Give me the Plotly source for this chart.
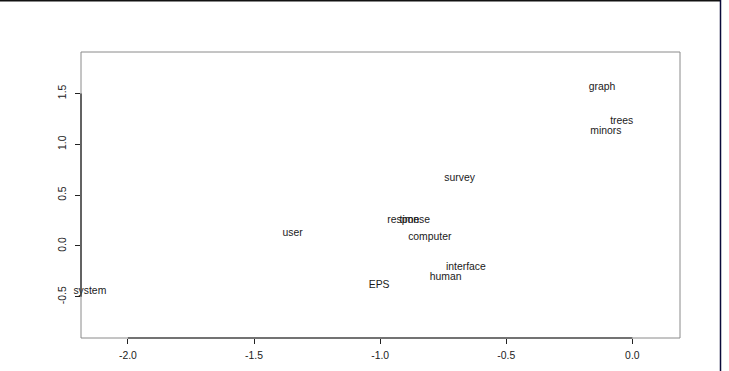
import plotly.graph_objects as go

# Term coordinates (2-D projection)
terms = ["graph", "trees", "minors", "survey", "response", "time", "user",
         "computer", "interface", "human", "EPS", "system"]
dim1 = [-0.120, -0.042, -0.105, -0.685, -0.887, -0.884, -1.347,
        -0.803, -0.660, -0.740, -1.004, -2.151]
dim2 = [1.563, 1.229, 1.131, 0.666, 0.253, 0.253, 0.128,
        0.088, -0.206, -0.308, -0.386, -0.445]

x_ticks = [-2.0, -1.5, -1.0, -0.5, 0.0]
x_tick_labels = ["-2.0", "-1.5", "-1.0", "-0.5", "0.0"]
y_ticks = [-0.5, 0.0, 0.5, 1.0, 1.5]
y_tick_labels = ["-0.5", "0.0", "0.5", "1.0", "1.5"]

x_range = [-2.186, 0.189]
y_range = [-0.905, 1.908]

FONT = "Liberation Sans, Arial, Helvetica, sans-serif"
FS = 10.4

fig = go.Figure()
fig.add_trace(go.Scatter(
    x=dim1, y=dim2, text=terms, mode="text",
    textposition="middle center",
    textfont=dict(family=FONT, size=FS, color="#1a1a1a"),
    hoverinfo="skip", cliponaxis=False, showlegend=False,
))

L, R, T, B = 81, 49, 52, 33
W, H = 729, 371
pw, ph = W - L - R, H - T - B


def px_to_paper_x(px):
    return (px - L) / pw


def px_to_paper_y(py):
    return (H - B - py) / ph


shapes = [
    # plot box (gray)
    dict(type="rect", xref="paper", yref="paper", x0=0, x1=1, y0=0, y1=1,
         line=dict(color="#8a8a8a", width=1), layer="above"),
    # axis lines spanning the ticks (black)
    dict(type="line", xref="x", yref="paper", x0=min(x_ticks), x1=max(x_ticks),
         y0=0, y1=0, line=dict(color="#222222", width=1.2), layer="above"),
    dict(type="line", xref="paper", yref="y", x0=0, x1=0,
         y0=min(y_ticks), y1=max(y_ticks), line=dict(color="#222222", width=1.2),
         layer="above"),
    # outer frame: top and right edges
    dict(type="line", xref="paper", yref="paper",
         x0=px_to_paper_x(0), x1=px_to_paper_x(721), y0=px_to_paper_y(0.75),
         y1=px_to_paper_y(0.75), line=dict(color="#111111", width=1.5)),
    dict(type="line", xref="paper", yref="paper",
         x0=px_to_paper_x(720.5), x1=px_to_paper_x(720.5), y0=px_to_paper_y(371),
         y1=px_to_paper_y(0), line=dict(color="#0a0a3a", width=1.5)),
]

fig.update_layout(
    width=W, height=H,
    margin=dict(l=L, r=R, t=T, b=B, pad=0, autoexpand=False),
    paper_bgcolor="white", plot_bgcolor="white",
    font=dict(family=FONT, size=FS, color="#222222"),
    shapes=shapes,
    xaxis=dict(range=x_range, tickvals=x_ticks, ticktext=x_tick_labels,
               showgrid=False, zeroline=False, showline=False, automargin=False,
               ticks="outside", ticklen=5, tickcolor="#222222", tickwidth=1,
               ticklabelstandoff=3,
               tickfont=dict(family=FONT, size=FS, color="#222222")),
    yaxis=dict(range=y_range, tickvals=y_ticks, ticktext=y_tick_labels,
               showgrid=False, zeroline=False, showline=False, automargin=False,
               ticks="outside", ticklen=5, tickcolor="#222222", tickwidth=1,
               tickangle=-90, ticklabelstandoff=5,
               tickfont=dict(family=FONT, size=FS, color="#222222")),
)

fig.write_html("out.html",
               config={"displayModeBar": False},
               post_script="document.body.style.margin='0';"
                           "document.body.style.overflow='hidden';")
